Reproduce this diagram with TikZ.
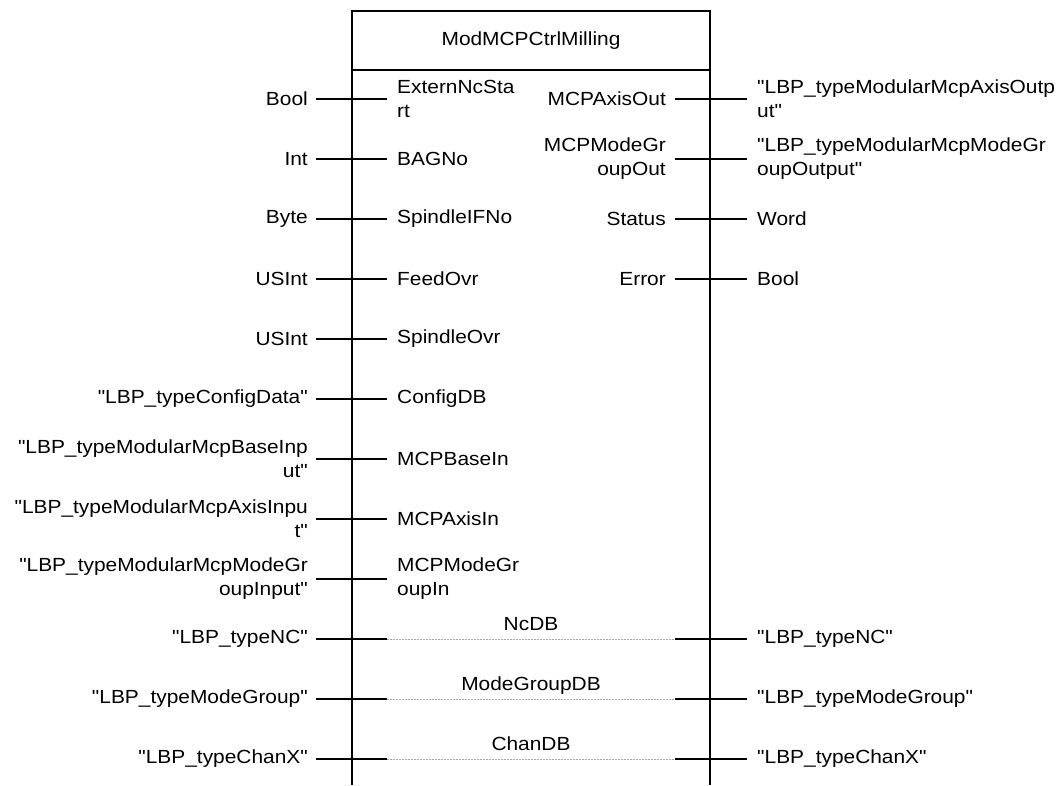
\documentclass[tikz,border=0pt]{standalone}
\usepackage{fontspec}
\setmainfont{Liberation Sans}[FakeStretch=1.1, Ligatures=TeXOff]

\tikzset{
  lbl/.style={font=\fontsize{19}{24}\selectfont, inner ysep=0pt},
  typein/.style={lbl, anchor=east, align=right, inner xsep=8pt},
  pinin/.style={lbl, anchor=west, align=left, inner xsep=10pt},
  pinout/.style={lbl, anchor=east, align=right, inner xsep=9pt},
  typeout/.style={lbl, anchor=west, align=left, inner xsep=10pt},
  wire/.style={line width=2pt},
  pass/.style={gray!70, line width=0.8pt, dash pattern=on 2pt off 1pt},
}

\begin{document}
\begin{tikzpicture}[x=1pt,y=-1pt]
    \useasboundingbox (0,0) rectangle (1064,785);
    % block frame, open at the bottom
    \draw[wire] (352,785) -- (352,11) -- (710,11) -- (710,785);
    \draw[wire] (352,70) -- (710,70);
    \node[lbl] (fbname) at (531,41) {ModMCPCtrlMilling};
    % inputs
    \foreach \type/\pin [count=\i from 0] in {Bool/{ExternNcSta\\rt}, Int/BAGNo, Byte/SpindleIFNo, USInt/FeedOvr, USInt/SpindleOvr, {"LBP\_typeConfigData"}/ConfigDB, {"LBP\_typeModularMcpBaseInp\\ut"}/MCPBaseIn, {"LBP\_typeModularMcpAxisInpu\\t"}/MCPAxisIn, {"LBP\_typeModularMcpModeGr\\oupInput"}/{MCPModeGr\\oupIn}}{
        \pgfmathsetmacro\y{99+60*\i}
        \node[typein] (tin\i) at (316,\y) {\type};
        \node[pinin] (pin\i) at (387,\y) {\pin};
        \draw[wire] (tin\i.east) -- (pin\i.west);
    }
    % outputs
    \foreach \pin/\type [count=\i from 0] in {MCPAxisOut/{"LBP\_typeModularMcpAxisOutp\\ut"}, {MCPModeGr\\oupOut}/{"LBP\_typeModularMcpModeGr\\oupOutput"}, Status/Word, Error/Bool}{
        \pgfmathsetmacro\y{99+60*\i}
        \node[pinout] (pout\i) at (675,\y) {\pin};
        \node[typeout] (tout\i) at (747,\y) {\type};
        \draw[wire] (pout\i.east) -- (tout\i.west);
    }
    % in/outs passed through the block
    \foreach \pin/\type [count=\i from 9] in {NcDB/{"LBP\_typeNC"}, ModeGroupDB/{"LBP\_typeModeGroup"}, ChanDB/{"LBP\_typeChanX"}}{
        \pgfmathsetmacro\y{99+60*\i}
        \node[typein] (tiol\i) at (316,\y) {\type};
        \node[typeout] (tior\i) at (747,\y) {\type};
        \coordinate (ioa\i) at (387,\y);
        \coordinate (iob\i) at (675,\y);
        \draw[wire] (tiol\i.east) -- (ioa\i);
        \draw[pass] (ioa\i) -- (iob\i);
        \draw[wire] (iob\i) -- (tior\i.west);
        \node[lbl, anchor=base] (io\i) at (531,\y-9) {\pin};
    }
\end{tikzpicture}
\end{document}
